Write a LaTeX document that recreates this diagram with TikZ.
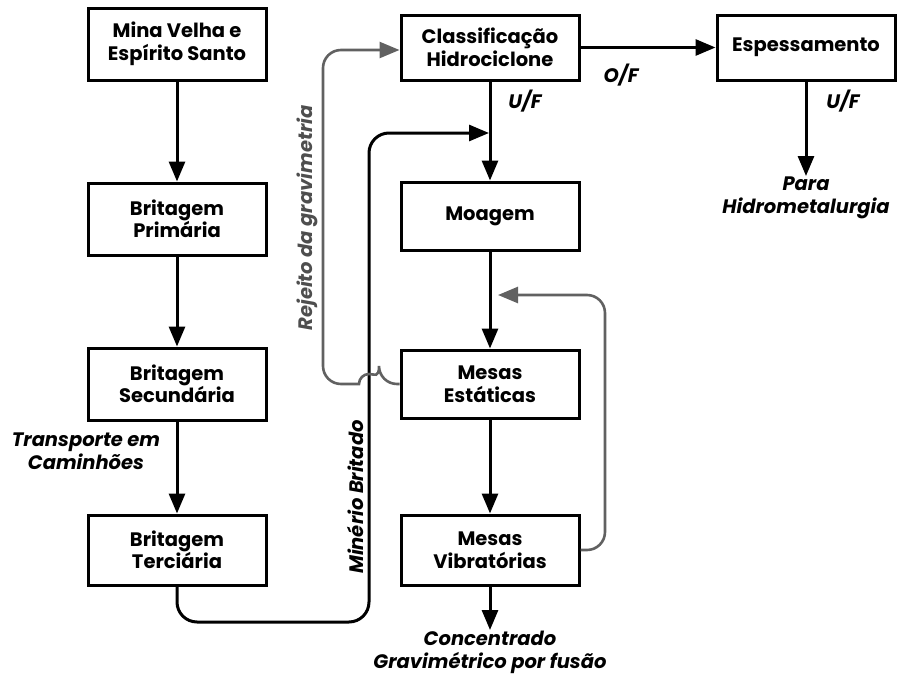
\documentclass[tikz,border=0pt]{standalone}
\usepackage{fontspec}
\setmainfont{Poppins}
\usetikzlibrary{arrows.meta}
\definecolor{recycle}{gray}{0.38}
\tikzset{
  box/.style={draw, line width=3pt, minimum width=178pt, minimum height=68pt,
    align=center, inner sep=2pt, font=\fontsize{19.5}{22.5}\selectfont\bfseries},
  flow/.style={line width=3pt, -{Triangle[length=20pt,width=16pt]}},
  back/.style={flow, draw=recycle, line width=2.6pt, rounded corners=18pt},
  lbl/.style={font=\fontsize{19.5}{22.5}\selectfont\bfseries\itshape, align=center, inner sep=1pt}
}
\begin{document}
\begin{tikzpicture}[x=1pt,y=-1pt]
\useasboundingbox (0,0) rectangle (903,680);

% left column: crushing stages
\node[box, minimum height=72pt] (mina) at (177,44) {Mina Velha e\\Espírito Santo};
\node[box, minimum height=72pt] (bp) at (177,219) {Britagem\\Primária};
\node[box, minimum height=72pt] (bs) at (177,384) {Britagem\\Secundária};
\node[box, minimum height=70pt] (bt) at (177,550) {Britagem\\Terciária};

% right column: classification, grinding, gravity tables
\node[box, minimum height=65pt] (cls) at (490,47.5) {Classificação\\Hidrociclone};
\node[box] (moa) at (490,216) {Moagem};
\node[box] (me) at (490,384) {Mesas\\Estáticas};
\node[box, minimum height=70pt] (mv) at (490,550) {Mesas\\Vibratórias};
\node[box, minimum height=65pt] (esp) at (806,47.5) {Espessamento};

% free ends
\coordinate (hidro) at (806,176);
\coordinate (conc) at (490,630);

% main flow
\draw[flow] (mina) -- (bp);
\draw[flow] (bp) -- (bs);
\draw[flow] (bs) -- (bt);
\draw[flow] (cls) -- (moa);
\draw[flow] (moa) -- (me);
\draw[flow] (me) -- (mv);
\draw[flow] (mv) -- (conc);
\draw[flow] (cls) -- (esp);
\draw[flow] (esp) -- (hidro);

% crushed ore to the grinding feed
\coordinate (mb1) at (177,622);
\coordinate (mb2) at (369,622);
\coordinate (mb3) at (369,133);
\coordinate (mbtip) at (489,133);
\draw[flow, rounded corners=20pt] (bt.south) -- (mb1) -- (mb2) -- (mb3) -- (mbtip);

% gravity tailings back to classification, hopping over the ore line
\coordinate (rj1) at (379,384);
\coordinate (rj2) at (323,384);
\coordinate (rj3) at (323,50);
\draw[back] (me.west) -- (rj1) {[sharp corners] arc[start angle=0, end angle=180, radius=10pt]} -- (rj2) -- (rj3) -- (cls.west |- rj3);

% vibrating table middlings back to the static tables
\coordinate (vb1) at (605,550);
\coordinate (vb2) at (605,295);
\coordinate (vbtip) at (498,295);
\draw[back] (mv.east) -- (vb1) -- (vb2) -- (vbtip);

% labels
\node[lbl] at (621,75) {O/F};
\node[lbl] at (525,101) {U/F};
\node[lbl] at (843,101) {U/F};
\node[lbl, anchor=north] at (hidro) {Para\\Hidrometalurgia};
\node[lbl, anchor=north] at (conc) {Concentrado\\Gravimétrico por fusão};
\node[lbl] at (86,451) {Transporte em\\Caminhões};
\node[lbl, rotate=90, text=recycle!80!black] at (307,218) {Rejeito da gravimetria};
\node[lbl, rotate=90] at (355,497) {Minério Britado};
\end{tikzpicture}
\end{document}
